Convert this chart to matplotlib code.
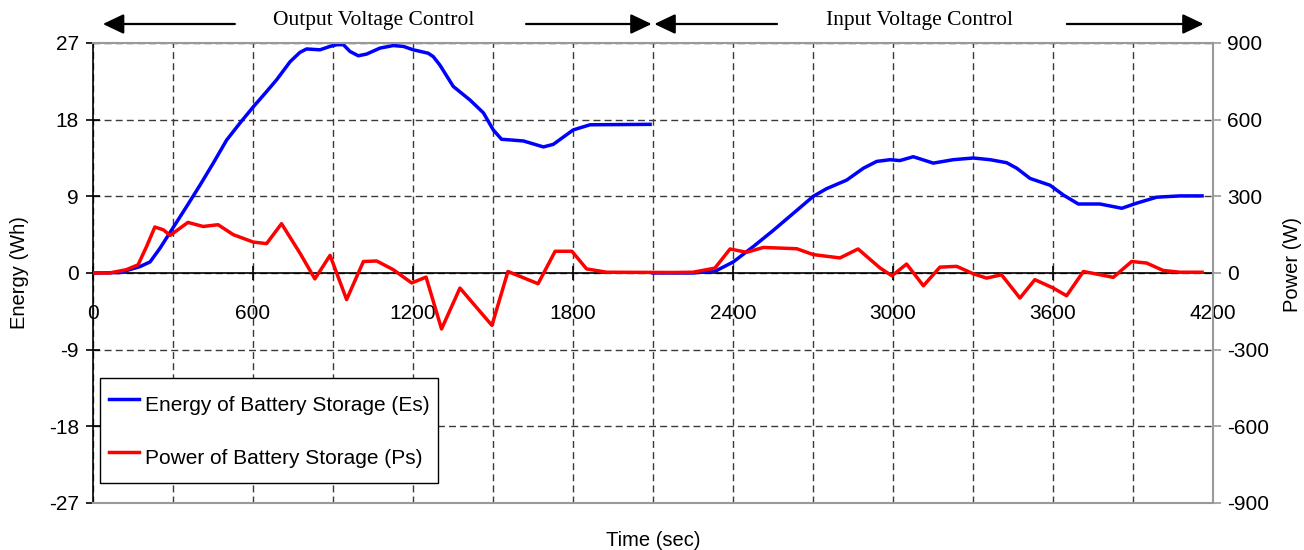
import matplotlib
matplotlib.use("Agg")
import matplotlib.pyplot as plt
import numpy as np

# Energy of battery storage (Wh), output voltage control segment
energy_t1 = [0, 100, 176, 214, 251, 300, 351, 401, 451, 501, 551, 601, 651, 689, 739, 776, 801,
             851, 889, 914, 939, 964, 995, 1026, 1076, 1126, 1164, 1201, 1257, 1276, 1301, 1339,
             1351, 1414, 1464, 1501, 1532, 1614, 1689, 1726, 1801, 1864, 2089]
energy_e1 = [0, 0.05, 0.75, 1.3, 2.9, 5.3, 7.8, 10.3, 12.9, 15.6, 17.6, 19.5, 21.3, 22.7, 24.8, 25.9, 26.3,
             26.2, 26.6, 26.8, 26.8, 26.0, 25.5, 25.7, 26.4, 26.7, 26.6, 26.2, 25.8, 25.4, 24.4, 22.5,
             21.9, 20.3, 18.8, 16.8, 15.7, 15.5, 14.8, 15.1, 16.8, 17.4, 17.45]

# Energy of battery storage (Wh), input voltage control segment
energy_t2 = [2100, 2250, 2339, 2401, 2476, 2551, 2626, 2701, 2751, 2826, 2889, 2939, 2989,
             3026, 3076, 3151, 3226, 3301, 3364, 3426, 3464, 3514, 3589, 3639, 3695, 3776,
             3858, 3914, 3989, 4076, 4159]
energy_e2 = [0, 0, 0.3, 1.3, 3.1, 5.0, 7.0, 9.0, 9.9, 10.9, 12.3, 13.1, 13.3,
             13.2, 13.65, 12.9, 13.3, 13.5, 13.3, 12.95, 12.3, 11.1, 10.3, 9.15, 8.1, 8.1,
             7.6, 8.2, 8.9, 9.05, 9.05]

# Power of battery storage (W)
power_t = [0, 62, 125, 169, 201, 232, 264, 289, 356, 413, 469, 526, 601, 651, 707, 776, 832, 889,
           951, 1014, 1064, 1126, 1195, 1249, 1307, 1376, 1496, 1556, 1669, 1733, 1796, 1851, 1926,
           2176, 2250, 2332, 2389, 2451, 2514, 2639, 2701, 2801, 2869, 2951, 2996, 3051, 3114, 3176,
           3239, 3301, 3351, 3407, 3476, 3532, 3601, 3651, 3714, 3826, 3895, 3951, 4013, 4076, 4159]
power_p = [0, 0, 13, 32, 104, 180, 169, 147, 198, 182, 189, 150, 121, 115, 193, 78, -23, 69,
           -104, 45, 47, 13, -39, -16, -219, -59, -205, 6, -42, 85, 85, 16, 3,
           2, 3, 19, 94, 81, 100, 95, 72, 59, 94, 20, -11, 35, -50, 23,
           26, -3, -20, -7, -98, -26, -59, -89, 6, -17, 45, 39, 10, 3, 3]

x_major = np.arange(0, 4201, 600)
x_minor = np.arange(300, 4200, 600)
e_ticks = np.arange(-27, 28, 9)
p_ticks = np.arange(-900, 901, 300)

plt.rcParams["font.family"] = ["Liberation Sans", "DejaVu Sans"]
plt.rcParams["axes.unicode_minus"] = False

fig = plt.figure(figsize=(13.04, 5.5), dpi=100)
ax = fig.add_axes([93 / 1304, 47 / 550, 1120 / 1304, 460 / 550])
ax2 = ax.twinx()

grid_kw = dict(color="#3a3a3a", linestyle=(0, (5, 3)), linewidth=1.0)

l1, = ax.plot(energy_t1, energy_e1, color="#0000ff", lw=2.5, zorder=3,
              label="Energy of Battery Storage (Es)")
ax.plot(energy_t2, energy_e2, color="#0000ff", lw=2.5, zorder=3)
l2, = ax2.plot(power_t, power_p, color="#ff0000", lw=2.5, zorder=3,
               label="Power of Battery Storage (Ps)")

ax.set_xlim(0, 4200)
ax.set_ylim(-27, 27)
ax2.set_ylim(-900, 900)

ax.set_xticks(x_major)
ax.set_xticks(x_minor, minor=True)
ax.set_yticks(e_ticks)
ax2.set_yticks(p_ticks)

ax.grid(True, which="both", axis="x", **grid_kw)
ax.grid(True, which="major", axis="y", **grid_kw)
ax.set_axisbelow(True)

# spines: black left and zero line, gray frame elsewhere
ax.spines["bottom"].set_position(("data", 0))
ax.spines["bottom"].set_linewidth(1.2)
ax.spines["left"].set_linewidth(1.2)
ax.spines["top"].set_visible(False)
ax.spines["right"].set_visible(False)
ax2.spines["left"].set_visible(False)
for s in ["top", "right", "bottom"]:
    ax2.spines[s].set_color("#999999")
    ax2.spines[s].set_linewidth(1.5)

ax.tick_params(axis="x", which="major", direction="inout", length=10, width=1.2,
               labelsize=15, pad=17)
ax.tick_params(axis="x", which="minor", length=0)
ax.tick_params(axis="y", direction="inout", length=10, width=1.2, labelsize=15, pad=5)
ax2.tick_params(axis="y", direction="out", length=6, width=1.2, color="#999999",
                labelsize=15, pad=4)
ax2.tick_params(axis="x", length=0, labelbottom=False)

fig.text(20 / 1304, 1 - 273 / 550, "Energy (Wh)", rotation=90, ha="center", va="center", fontsize=14.5)
fig.text(1293 / 1304, 1 - 265 / 550, "Power (W)", rotation=90, ha="center", va="center", fontsize=14.5)
fig.text(653 / 1304, 1 - 540 / 550, "Time (sec)", ha="center", va="center", fontsize=14.5)

# control-mode annotations above the plot
trans = ax.get_xaxis_transform()
arrow_kw = dict(arrowstyle="-|>,head_length=0.8,head_width=0.38", mutation_scale=16,
                color="black", lw=1.6, shrinkA=0, shrinkB=0)
y_arr = (503 - 24) / 460
for x0, x1 in [(532, 37), (1624, 2095), (2565, 2105), (3652, 4165)]:
    ax.annotate("", xy=(x1, y_arr), xytext=(x0, y_arr), xycoords=trans, textcoords=trans,
                arrowprops=arrow_kw)
y_txt = (503 - 21) / 460
ax.text(1054, y_txt, "Output Voltage Control", transform=trans, ha="center", va="center",
        fontsize=15.5, family=["Liberation Serif", "DejaVu Serif"])
ax.text(3100, y_txt, "Input Voltage Control", transform=trans, ha="center", va="center",
        fontsize=15.5, family=["Liberation Serif", "DejaVu Serif"])

leg = ax2.legend(handles=[l1, l2], loc="lower left", bbox_to_anchor=(0.00625, 0.0435),
                 borderaxespad=0, fancybox=False, framealpha=1, edgecolor="black",
                 fontsize=15, handlelength=1.45, handleheight=2.1, handletextpad=0.25,
                 labelspacing=0.93, borderpad=0.44)
leg.get_frame().set_linewidth(1.0)

fig.savefig("out.png", dpi=100)
